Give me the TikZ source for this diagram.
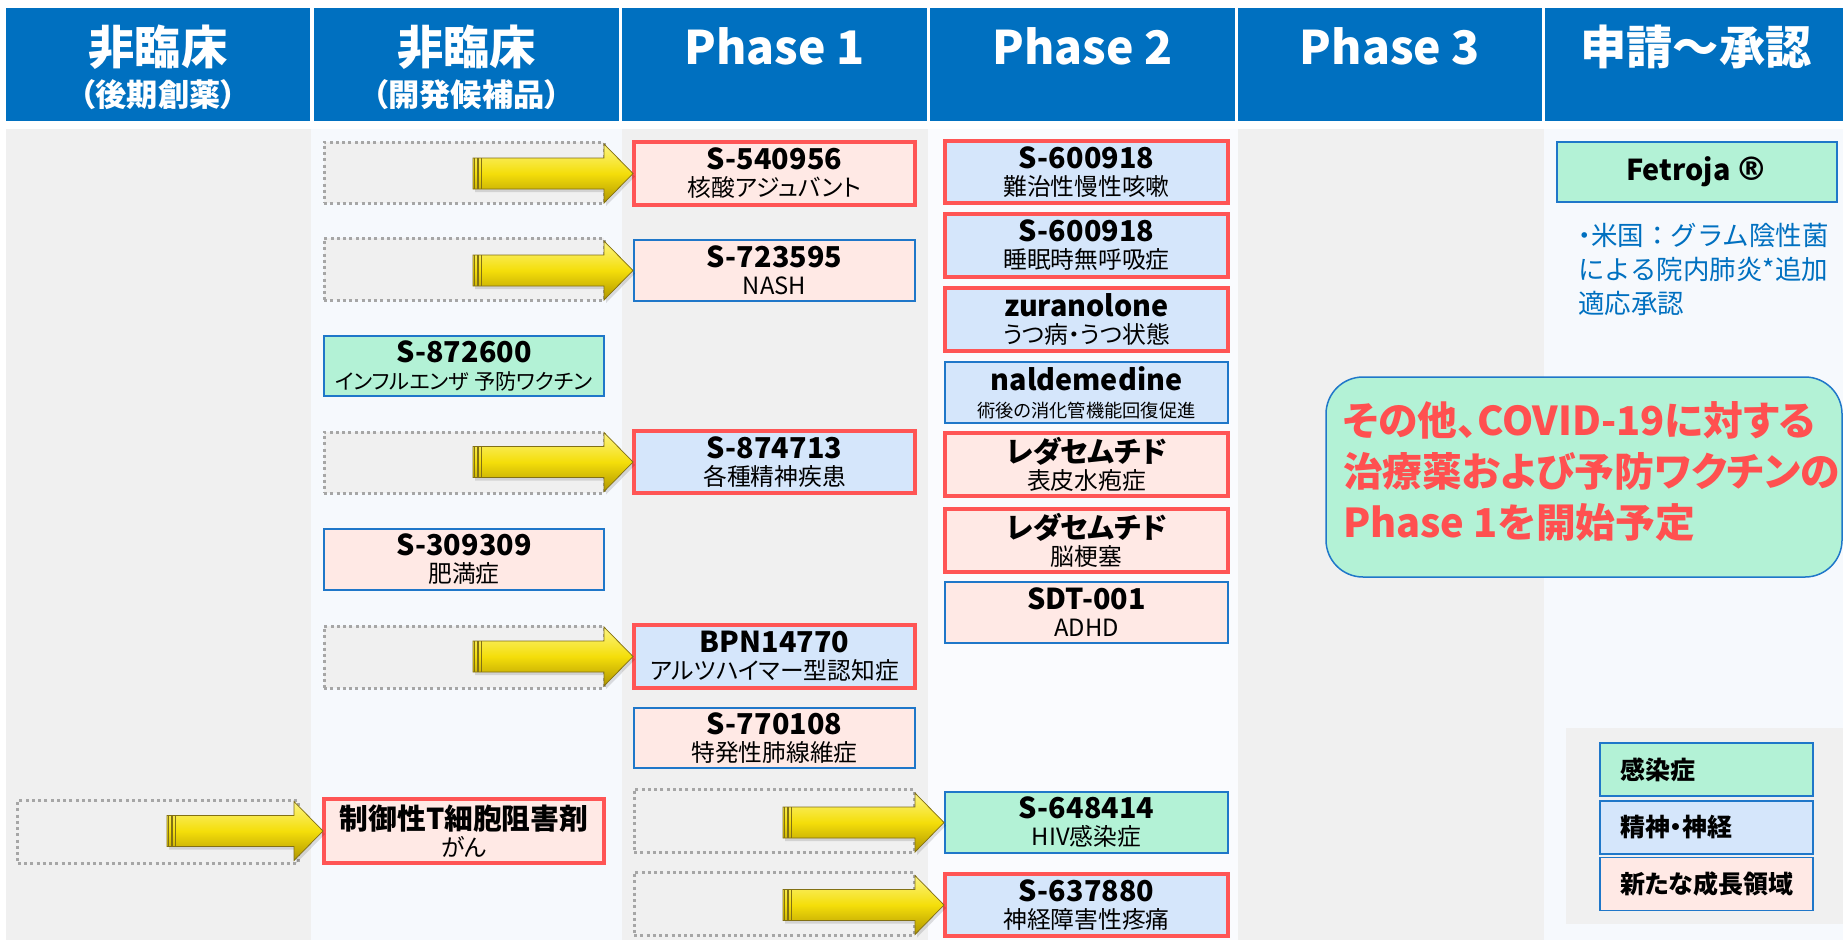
\documentclass[tikz,border=0pt]{standalone}
\usepackage{fontspec}
\setmainfont{Noto Sans CJK JP}[RawFeature=+palt]
\newfontfamily\jpn{Noto Sans CJK JP}
\newfontfamily\dvs{DejaVu Sans}
\usetikzlibrary{calc}
\definecolor{hdrblue}{HTML}{0070C0}
\definecolor{bggray}{HTML}{F0F0F0}
\definecolor{bglight}{HTML}{F6F9FD}
\definecolor{bglighttwo}{HTML}{FAFBFE}
\definecolor{pinkf}{HTML}{FFE9E5}
\definecolor{bluef}{HTML}{D5E6FB}
\definecolor{greenf}{HTML}{B3F2D6}
\definecolor{redb}{HTML}{FF5555}
\definecolor{blueb}{HTML}{1F77C9}
\definecolor{dashc}{HTML}{A6A6A6}
\definecolor{covred}{HTML}{FF5050}
\definecolor{ytop}{RGB}{252,244,130}
\definecolor{ymid}{RGB}{244,222,10}
\definecolor{ybot}{RGB}{176,150,0}
\definecolor{yline}{RGB}{130,112,20}
\newcommand\ttl{\fontsize{11.5}{13}\selectfont\bfseries}
\tikzset{
 every node/.style={outer sep=0pt},
 hdr/.style={fill=hdrblue, minimum height=45.2pt, inner sep=0},
 htxt/.style={text=white, font=\fontsize{18.5}{20}\selectfont\bfseries, anchor=base, inner sep=0},
 hsub/.style={text=white, font=\fontsize{12.5}{14}\selectfont\bfseries, anchor=base, inner sep=0},
 pbox/.style={rectangle, inner sep=0, align=center, font=\fontsize{9.5}{10.8}\selectfont},
 wtwo/.style={minimum width=112pt}, wthree/.style={minimum width=112.4pt}, wfour/.style={minimum width=113.2pt},
 pk/.style={fill=pinkf}, bl/.style={fill=bluef}, gr/.style={fill=greenf},
 rb/.style={draw=redb, line width=1.3pt}, bb/.style={draw=blueb, line width=0.6pt},
 dbox/.style={draw=dashc, fill=bggray, line width=1.2pt, dash pattern=on 1.2pt off 1.3pt, minimum width=112pt, inner sep=0},
 afill/.style={top color=ytop, bottom color=ybot, middle color=ymid, draw=yline, line width=0.3pt},
 ashadow/.style={fill=black, opacity=0.12},
 astripe/.style={draw=yline, line width=0.6pt},
 lg/.style={rectangle, draw=blueb, line width=0.6pt, text width=69.2pt, inner xsep=8pt, inner ysep=0, align=left, minimum height=21.2pt, font=\fontsize{10}{12}\selectfont\bfseries},
}
\newcommand\yarrow[2]{%
 \fill[ashadow] let \p1=(#1.east), \p2=(#2.west) in
   (\x1-51.6pt,\y2+5.0pt) -- (\x2-11.2pt,\y2+5.0pt) -- (\x2-11.2pt,\y2+10.6pt) -- (\x2+0.4pt,\y2-1.2pt) -- (\x2-11.2pt,\y2-13pt) -- (\x2-11.2pt,\y2-7.4pt) -- (\x1-51.6pt,\y2-7.4pt) -- cycle;
 \draw[afill] let \p1=(#1.east), \p2=(#2.west) in
   (\x1-52.4pt,\y2+6.2pt) -- (\x2-12pt,\y2+6.2pt) -- (\x2-12pt,\y2+11.8pt) -- (\x2-0.4pt,\y2) -- (\x2-12pt,\y2-11.8pt) -- (\x2-12pt,\y2-6.2pt) -- (\x1-52.4pt,\y2-6.2pt) -- cycle;
 \draw[astripe] let \p1=(#1.east), \p2=(#2.west) in
   (\x1-51.8pt,\y2+6.2pt) -- (\x1-51.8pt,\y2-6.2pt)
   (\x1-50.4pt,\y2+6.2pt) -- (\x1-50.4pt,\y2-6.2pt)
   (\x1-49pt,\y2+6.2pt) -- (\x1-49pt,\y2-6.2pt);
}
\begin{document}
\begin{tikzpicture}[x=0.4pt,y=-0.4pt]
\useasboundingbox (0,0) rectangle (1843,940);
\fill[white] (0,0) rectangle (1843,940);
% body columns
\fill[bggray] (6,129) rectangle (311,940);
\fill[bglight] (311,129) rectangle (622,940);
\fill[bggray] (622,129) rectangle (928,940);
\fill[bglighttwo] (928,129) rectangle (1238,940);
\fill[bggray] (1238,129) rectangle (1544,940);
\fill[bglight] (1544,129) rectangle (1843,940);
% header
\node[hdr, minimum width=121.6pt] (h1) at (158,64.5) {};
\node[hdr, minimum width=122pt] (h2) at (466.5,64.5) {};
\node[hdr, minimum width=122pt] (h3) at (774.5,64.5) {};
\node[hdr, minimum width=122pt] (h4) at (1082.5,64.5) {};
\node[hdr, minimum width=121.6pt] (h5) at (1390,64.5) {};
\node[hdr, minimum width=119.2pt] (h6) at (1694,64.5) {};
\node[htxt] (h1a) at (158,64) {非臨床};
\node[hsub] (h1b) at (158,106) {（後期創薬）};
\node[htxt] (h2a) at (466.5,64) {非臨床};
\node[hsub] (h2b) at (466.5,106) {（開発候補品）};
\node[htxt] (h3a) at (774.5,64) {Phase 1};
\node[htxt] (h4a) at (1082.5,64) {Phase 2};
\node[htxt] (h5a) at (1390,64) {Phase 3};
\node[htxt] (h6a) at (1696,64) {申請～承認};
% column 1
\node[dbox, minimum height=25.2pt] (d0) at (158,831.5) {};
% column 2
\node[dbox, minimum height=24.4pt] (d1) at (464,172.5) {};
\node[dbox, minimum height=24.8pt] (d2) at (464,269) {};
\node[pbox,wtwo,gr,bb,minimum height=24pt] (s872600) at (464,366) {{\ttl S-872600}\\{\fontsize{8.5}{10}\selectfont インフルエンザ 予防ワクチン}};
\node[dbox, minimum height=24.4pt] (d3) at (464,462.5) {};
\node[pbox,wtwo,pk,bb,minimum height=24.4pt] (s309309) at (464,559.5) {{\ttl S-309309}\\肥満症};
\node[dbox, minimum height=24.8pt] (d4) at (464,657) {};
\node[pbox,wtwo,pk,rb,minimum height=25.6pt] (ctl) at (464,831) {{\ttl 制御性T細胞阻害剤}\\がん};
% column 3
\node[pbox,wthree,pk,rb,minimum height=25.2pt] (s540956) at (774.5,173.5) {{\ttl S-540956}\\核酸アジュバント};
\node[pbox,wthree,pk,bb,minimum height=24.4pt] (s723595) at (774.5,270.5) {{\ttl S-723595}\\NASH};
\node[pbox,wthree,bl,rb,minimum height=24.8pt] (s874713) at (774.5,462) {{\ttl S-874713}\\各種精神疾患};
\node[pbox,wthree,bl,rb,minimum height=25.2pt] (bpn) at (774.5,656.5) {{\ttl BPN14770}\\アルツハイマー型認知症};
\node[pbox,wthree,pk,bb,minimum height=24pt] (s770108) at (774.5,738) {{\ttl S-770108}\\特発性肺線維症};
\node[dbox, minimum height=25.2pt] (d5) at (774,820.5) {};
\node[dbox, minimum height=25.2pt] (d6) at (774,903.5) {};
% column 4
\node[pbox,wfour,bl,rb,minimum height=24.8pt] (s600918a) at (1086.5,172) {{\ttl S-600918}\\難治性慢性咳嗽};
\node[pbox,wfour,bl,rb,minimum height=25.2pt] (s600918b) at (1086.5,245.5) {{\ttl S-600918}\\睡眠時無呼吸症};
\node[pbox,wfour,bl,rb,minimum height=25.2pt] (zur) at (1086.5,319.5) {{\ttl zuranolone}\\うつ病・うつ状態};
\node[pbox,wfour,bl,bb,minimum height=24.4pt] (nal) at (1086.5,392.5) {{\ttl naldemedine}\\{\fontsize{7.3}{9}\selectfont 術後の消化管機能回復促進}};
\node[pbox,wfour,pk,rb,minimum height=25.2pt] (reda1) at (1086.5,464.5) {{\ttl レダセムチド}\\表皮水疱症};
\node[pbox,wfour,pk,rb,minimum height=25.2pt] (reda2) at (1086.5,540.5) {{\ttl レダセムチド}\\脳梗塞};
\node[pbox,wfour,pk,bb,minimum height=24.4pt] (sdt) at (1086.5,612.5) {{\ttl SDT-001}\\ADHD};
\node[pbox,wfour,gr,bb,minimum height=24.4pt] (s648414) at (1086.5,822.5) {{\ttl S-648414}\\HIV感染症};
\node[pbox,wfour,bl,rb,minimum height=24.8pt] (s637880) at (1086.5,905) {{\ttl S-637880}\\神経障害性疼痛};
% arrows
\yarrow{d1}{s540956}
\yarrow{d2}{s723595}
\yarrow{d3}{s874713}
\yarrow{d4}{bpn}
\yarrow{d0}{ctl}
\yarrow{d5}{s648414}
\yarrow{d6}{s637880}
% column 6
\node[pbox, minimum width=112pt, minimum height=24pt, gr, bb, font=\ttl] (fetroja) at (1697,172) {Fetroja\,{\dvs\fontsize{13}{14}\selectfont ®}};
\node[anchor=west, inner sep=0, align=left, text=hdrblue, font=\jpn\fontsize{10.6}{13.6}\selectfont] (fnote) at (1578,269) {{\rmfamily ・}米国：グラム陰性菌\\による院内肺炎*追加\\適応承認};
% covid box
\node[rectangle, rounded corners=14.8pt, fill=greenf, draw=blueb, line width=0.6pt, minimum width=206.4pt, minimum height=80pt, inner sep=0] (covid) at (1584,477) {};
\node[anchor=west, inner sep=0, align=left, text=covred, font=\fontsize{15.9}{20.4}\selectfont\bfseries] (covtxt) at (1343,472) {その他、COVID-19に対する\\治療薬および予防ワクチンの\\Phase 1を開始予定};
% legend
\fill[bggray] (1566,728) rectangle (1843,924);
\node[lg, gr] (lg1) at (1706.5,769.5) {感染症};
\node[lg, bl] (lg2) at (1706.5,827.5) {精神・神経};
\node[lg, pk] (lg3) at (1706.5,884) {新たな成長領域};
\end{tikzpicture}
\end{document}
